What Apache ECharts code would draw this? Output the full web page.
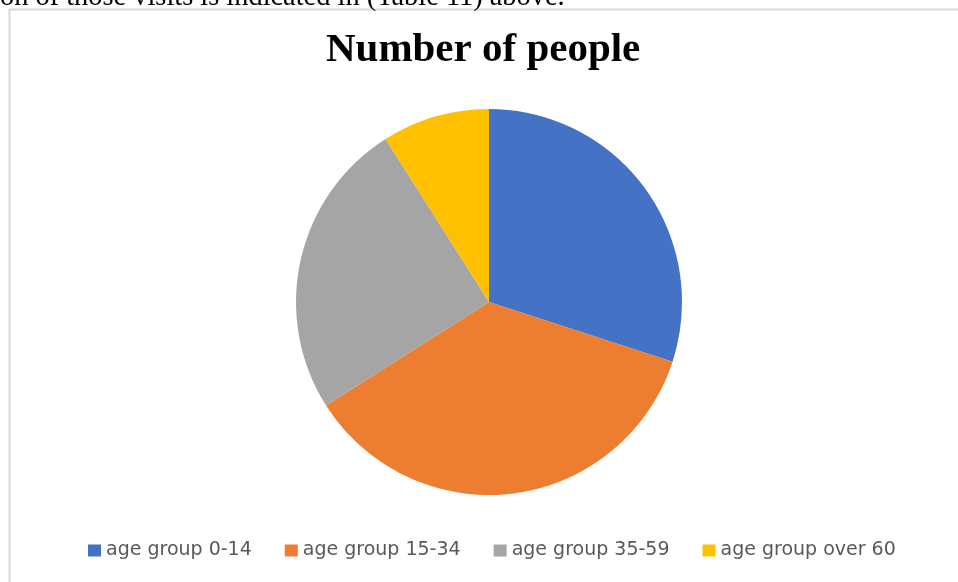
<!DOCTYPE html>
<html>
<head>
    <meta charset="utf-8">
    <title>Number of people</title>
    <script src="https://cdn.jsdelivr.net/npm/echarts@6/dist/echarts.min.js"></script>
    <style>
        html, body { margin: 0; padding: 0; background: #fff; }
    </style>
</head>
<body>
    <div id="main" style="width: 958px;height:582px;"></div>
    <script type="text/javascript">
        // data (shares, roughly percent)
        var categories = ['age group 0-14', 'age group 15-34', 'age group 35-59', 'age group over 60'];
        var values = [30, 36, 25, 9];
        var colors = ['#4472c4', '#ed7d31', '#a5a5a5', '#ffc000'];

        var myChart = echarts.init(document.getElementById('main'));

        var pieData = categories.map(function (name, i) {
            return { name: name, value: values[i], itemStyle: { color: colors[i] } };
        });

        var option = {
            animation: false,
            backgroundColor: '#fff',
            title: {
                text: 'Number of people',
                left: 321,
                top: 25,
                textStyle: {
                    fontFamily: 'Liberation Serif',
                    fontWeight: 'bold',
                    fontSize: 41,
                    color: '#000'
                }
            },
            graphic: [{
                // frame of the embedded chart
                type: 'rect',
                shape: { x: 9.5, y: 9.5, width: 1000, height: 640 },
                style: { fill: 'none', stroke: '#d9d9d9', lineWidth: 2 },
                silent: true
            }, {
                // cut-off line of document text above the chart
                type: 'text',
                left: 0,
                top: -16,
                style: {
                    text: 'on of those visits is indicated in (Table 11) above.',
                    fontFamily: 'Liberation Serif',
                    fontSize: 28.4,
                    fill: '#000'
                },
                silent: true
            }],
            legend: {
                left: 83,
                top: 536,
                icon: 'rect',
                itemWidth: 13,
                itemHeight: 12,
                itemGap: 33,
                textStyle: {
                    fontFamily: 'DejaVu Sans',
                    fontSize: 19,
                    color: '#595959'
                },
                data: categories
            },
            series: [{
                type: 'pie',
                center: [489, 302],
                radius: 193,
                startAngle: 90,
                clockwise: true,
                label: { show: false },
                labelLine: { show: false },
                emphasis: { disabled: true },
                itemStyle: { borderWidth: 0 },
                data: pieData
            }]
        };

        myChart.setOption(option);
    </script>
</body>
</html>
